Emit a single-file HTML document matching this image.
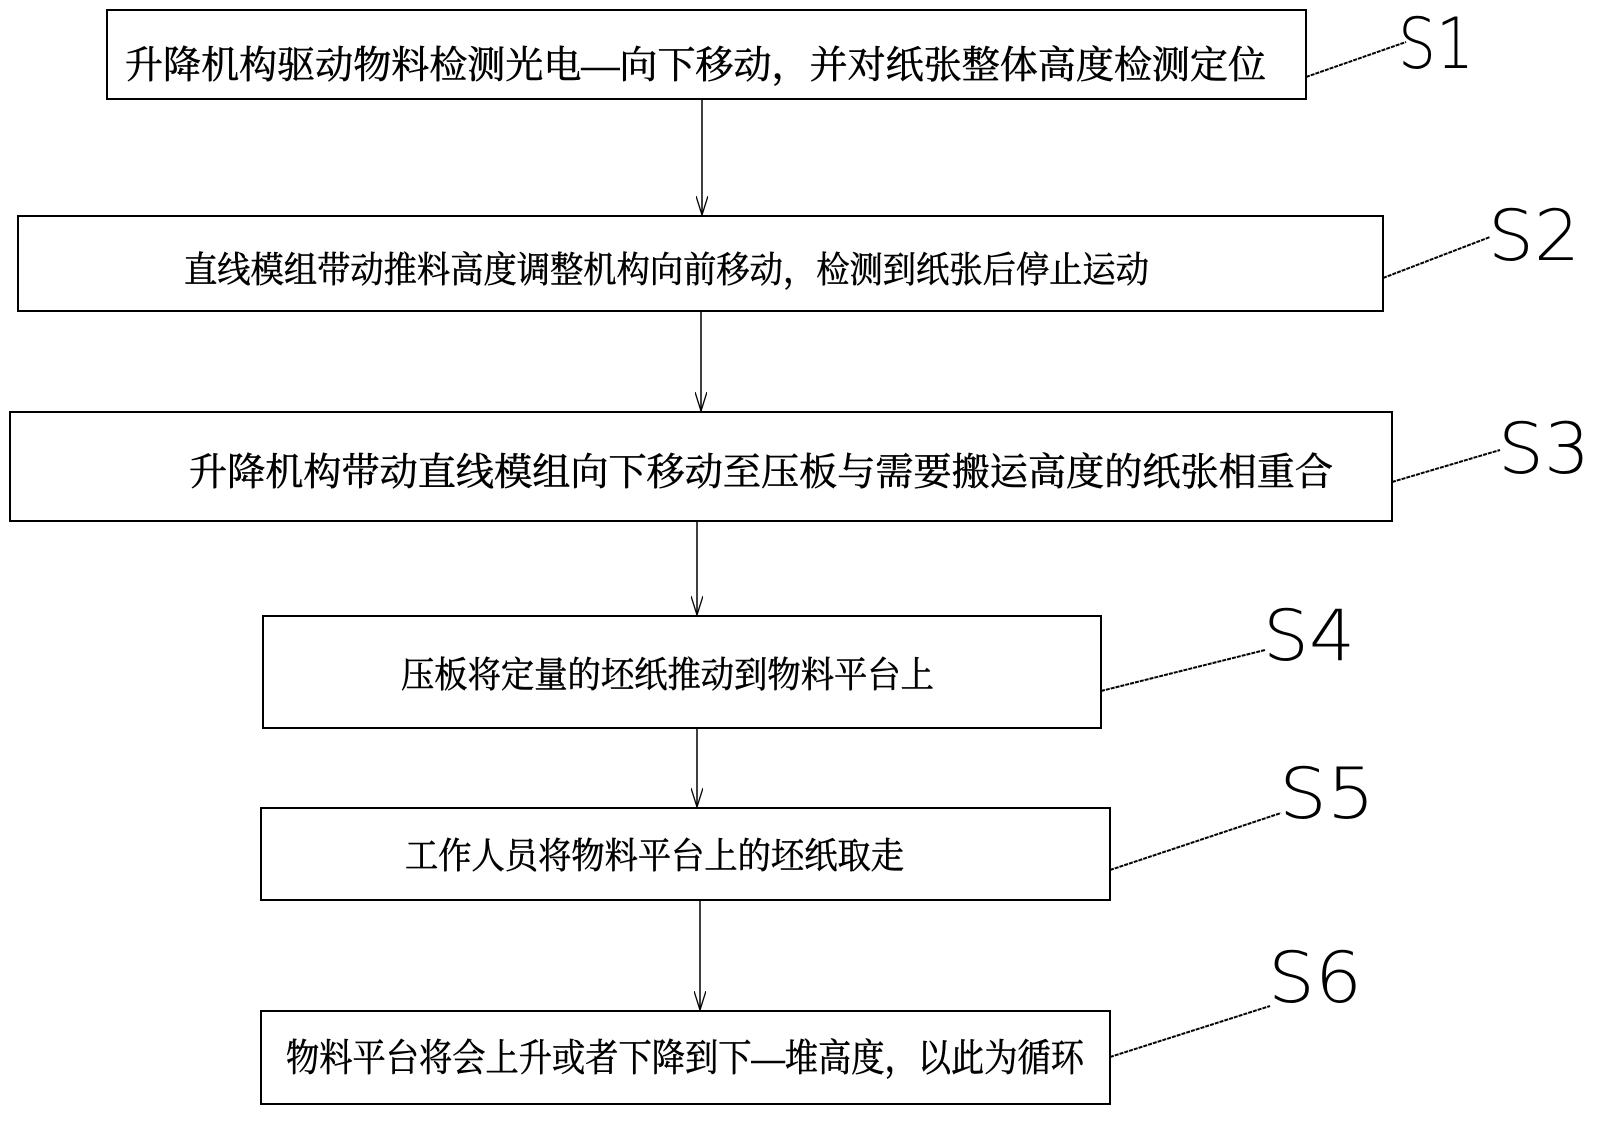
<!DOCTYPE html>
<html><head><meta charset="utf-8"><style>
html,body{margin:0;padding:0;background:#fff;}
svg text{font-family:"Liberation Serif","Noto Serif CJK SC","Noto Sans CJK SC",serif;fill:#000;}
</style></head><body>
<svg width="1599" height="1116" viewBox="0 0 1599 1116" xmlns="http://www.w3.org/2000/svg">
<defs><marker id="a" markerWidth="20" markerHeight="12" refX="19" refY="6" orient="auto" markerUnits="userSpaceOnUse"><path d="M0,0 L19,6 L0,12" fill="none" stroke="#000" stroke-width="1.3"/></marker></defs>
<g fill="none" stroke="#000" stroke-width="2">
<rect x="107" y="10" width="1199" height="89"/>
<rect x="18" y="216" width="1365" height="95"/>
<rect x="10" y="412" width="1382" height="109"/>
<rect x="263" y="616" width="838" height="112"/>
<rect x="261" y="808" width="849" height="92"/>
<rect x="261" y="1011" width="849" height="93"/>
</g>
<g stroke="#000" stroke-width="1.5" marker-end="url(#a)">
<line x1="702" y1="99" x2="702" y2="215"/>
<line x1="701" y1="311" x2="701" y2="411"/>
<line x1="697" y1="521" x2="697" y2="615"/>
<line x1="697" y1="728" x2="697" y2="807"/>
<line x1="700" y1="900" x2="700" y2="1010"/>
</g>
<g stroke="#000" stroke-width="2" stroke-dasharray="4,1">
<line x1="1306" y1="77" x2="1406" y2="42"/>
<line x1="1383" y1="278" x2="1490" y2="237"/>
<line x1="1392" y1="482" x2="1500" y2="450"/>
<line x1="1101" y1="691" x2="1265" y2="650"/>
<line x1="1110" y1="870" x2="1281" y2="813"/>
<line x1="1110" y1="1057" x2="1270" y2="1006"/>
</g>
<g font-size="38" stroke="#000" stroke-width="0.6">
<text x="125" y="78" textLength="1141" lengthAdjust="spacingAndGlyphs">升降机构驱动物料检测光电—向下移动，并对纸张整体高度检测定位</text>
<text x="184" y="282" font-size="36" textLength="965" lengthAdjust="spacingAndGlyphs">直线模组带动推料高度调整机构向前移动，检测到纸张后停止运动</text>
<text x="189" y="485" textLength="1144" lengthAdjust="spacingAndGlyphs">升降机构带动直线模组向下移动至压板与需要搬运高度的纸张相重合</text>
<text x="401" y="687" font-size="36" textLength="533" lengthAdjust="spacingAndGlyphs">压板将定量的坯纸推动到物料平台上</text>
<text x="405" y="868" font-size="36" textLength="499" lengthAdjust="spacingAndGlyphs">工作人员将物料平台上的坯纸取走</text>
<text x="286" y="1071" textLength="798" lengthAdjust="spacingAndGlyphs">物料平台将会上升或者下降到下—堆高度，以此为循环</text>
</g>
<g font-size="70">
<text x="1398" y="68" textLength="76" lengthAdjust="spacingAndGlyphs" style="font-family:'DejaVu Sans',sans-serif;font-weight:200">S1</text>
<text x="1488" y="260" textLength="92" lengthAdjust="spacingAndGlyphs" style="font-family:'DejaVu Sans',sans-serif;font-weight:200">S2</text>
<text x="1498" y="473" textLength="92" lengthAdjust="spacingAndGlyphs" style="font-family:'DejaVu Sans',sans-serif;font-weight:200">S3</text>
<text x="1263" y="660" textLength="92" lengthAdjust="spacingAndGlyphs" style="font-family:'DejaVu Sans',sans-serif;font-weight:200">S4</text>
<text x="1279" y="818" textLength="96" lengthAdjust="spacingAndGlyphs" style="font-family:'DejaVu Sans',sans-serif;font-weight:200">S5</text>
<text x="1268" y="1002" textLength="94" lengthAdjust="spacingAndGlyphs" style="font-family:'DejaVu Sans',sans-serif;font-weight:200">S6</text>
</g>
</svg>
</body></html>
